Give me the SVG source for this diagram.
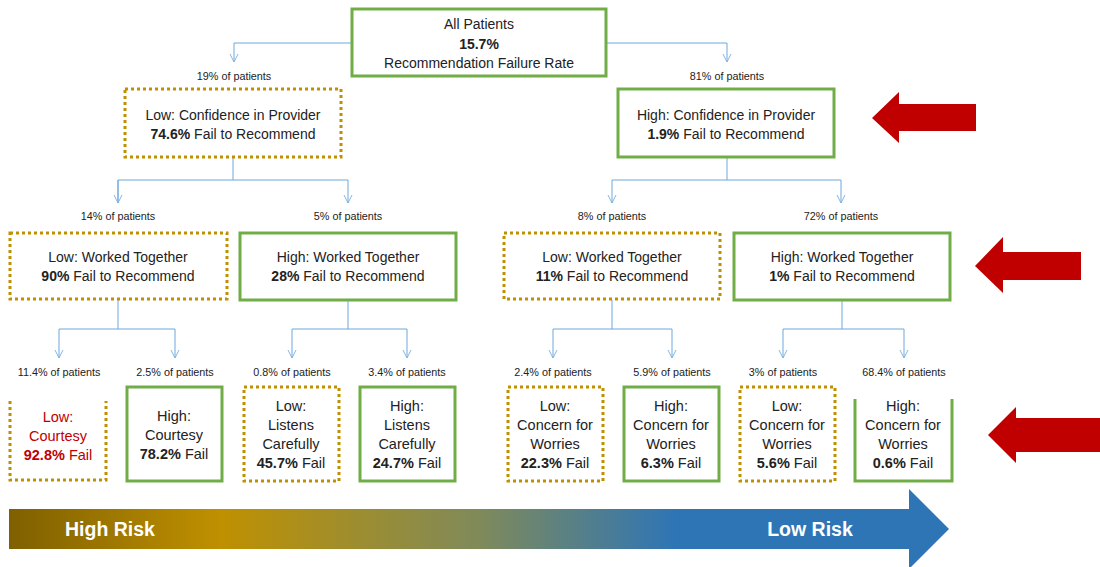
<svg xmlns="http://www.w3.org/2000/svg" width="1100" height="567" viewBox="0 0 1100 567">
<defs>
<style>
text{font-family:"Liberation Sans",Arial,sans-serif;fill:#222;text-anchor:middle}
.t{font-size:14px}
.t4{font-size:14.5px}
.p{font-size:10.8px}
.b{font-weight:bold}
.red{fill:#C00000}
.hi{fill:#fff;stroke:#70AD47;stroke-width:3}
.lo{fill:#fff;stroke:#BF9000;stroke-width:3;stroke-dasharray:3 3}
.side-hi{fill:none;stroke:#70AD47;stroke-width:3}
.side-lo{fill:none;stroke:#BF9000;stroke-width:3;stroke-dasharray:3 3}
.c{fill:none;stroke:#6FA8DC;stroke-width:1}
.ra{fill:#C00000}
.risk{font-size:19.5px;font-weight:bold;fill:#fff}
</style>
<marker id="v" viewBox="0 0 10 10" refX="10" refY="5" markerWidth="8" markerHeight="10" markerUnits="userSpaceOnUse" orient="auto">
<path d="M0,0 L10,5 L0,10" fill="none" stroke="#7FB2E0" stroke-width="1.2"/>
</marker>
<linearGradient id="g" gradientUnits="userSpaceOnUse" x1="9" y1="0" x2="949" y2="0">
<stop offset="0" stop-color="#7F6000"/>
<stop offset="0.225" stop-color="#BF9000"/>
<stop offset="0.5" stop-color="#7F8A5A"/>
<stop offset="0.71" stop-color="#2E75B6"/>
<stop offset="1" stop-color="#2E75B6"/>
</linearGradient>
</defs>

<g id="connectors">
<path class="c" d="M351,43 H234 V62" marker-end="url(#v)"/>
<path class="c" d="M606,43 H727 V62" marker-end="url(#v)"/>
<path class="c" d="M233,157 V180"/>
<path class="c" d="M118,203 V180 H348 V203" marker-end="url(#v)"/>
<path class="c" d="M118,180 V203" marker-end="url(#v)"/>
<path class="c" d="M727,157 V180"/>
<path class="c" d="M612,180 H841 V203" marker-end="url(#v)"/>
<path class="c" d="M612,180 V203" marker-end="url(#v)"/>
<path class="c" d="M118,300 V329"/>
<path class="c" d="M59,329 H175 V358" marker-end="url(#v)"/>
<path class="c" d="M59,329 V358" marker-end="url(#v)"/>
<path class="c" d="M348,300 V329"/>
<path class="c" d="M292,329 H407 V358" marker-end="url(#v)"/>
<path class="c" d="M292,329 V358" marker-end="url(#v)"/>
<path class="c" d="M612,300 V329"/>
<path class="c" d="M553,329 H672 V358" marker-end="url(#v)"/>
<path class="c" d="M553,329 V358" marker-end="url(#v)"/>
<path class="c" d="M842,300 V329"/>
<path class="c" d="M783,329 H904 V358" marker-end="url(#v)"/>
<path class="c" d="M783,329 V358" marker-end="url(#v)"/>
</g>

<g id="labels">
<text class="p" x="234" y="80">19% of patients</text>
<text class="p" x="727" y="80">81% of patients</text>
<text class="p" x="118" y="220">14% of patients</text>
<text class="p" x="348" y="220">5% of patients</text>
<text class="p" x="612" y="220">8% of patients</text>
<text class="p" x="841" y="220">72% of patients</text>
<text class="p" x="59" y="376">11.4% of patients</text>
<text class="p" x="175" y="376">2.5% of patients</text>
<text class="p" x="292" y="376">0.8% of patients</text>
<text class="p" x="407" y="376">3.4% of patients</text>
<text class="p" x="553" y="376">2.4% of patients</text>
<text class="p" x="672" y="376">5.9% of patients</text>
<text class="p" x="783" y="376">3% of patients</text>
<text class="p" x="904" y="376">68.4% of patients</text>
</g>

<g id="all-patients">
<rect class="hi" x="352" y="9" width="254" height="67"/>
<text class="t" x="479" y="29">All Patients</text>
<text class="t b" x="479" y="49">15.7%</text>
<text class="t" x="479" y="68">Recommendation Failure Rate</text>
</g>

<g id="low-confidence">
<rect class="lo" x="125" y="89" width="216" height="68"/>
<text class="t" x="233" y="120">Low: Confidence in Provider</text>
<text class="t" x="233" y="139"><tspan class="b">74.6%</tspan> Fail to Recommend</text>
</g>

<g id="high-confidence">
<rect class="hi" x="618" y="89" width="216" height="68"/>
<text class="t" x="726" y="120">High: Confidence in Provider</text>
<text class="t" x="726" y="139"><tspan class="b">1.9%</tspan> Fail to Recommend</text>
</g>

<g id="low-worked-1">
<rect class="lo" x="10" y="233" width="217" height="66"/>
<text class="t" x="118" y="262">Low: Worked Together</text>
<text class="t" x="118" y="281"><tspan class="b">90%</tspan> Fail to Recommend</text>
</g>

<g id="high-worked-1">
<rect class="hi" x="240" y="233" width="216" height="67"/>
<text class="t" x="348" y="262">High: Worked Together</text>
<text class="t" x="348" y="281"><tspan class="b">28%</tspan> Fail to Recommend</text>
</g>

<g id="low-worked-2">
<rect class="lo" x="504" y="233" width="216" height="66"/>
<text class="t" x="612" y="262">Low: Worked Together</text>
<text class="t" x="612" y="281"><tspan class="b">11%</tspan> Fail to Recommend</text>
</g>

<g id="high-worked-2">
<rect class="hi" x="734" y="233" width="216" height="67"/>
<text class="t" x="842" y="262">High: Worked Together</text>
<text class="t" x="842" y="281"><tspan class="b">1%</tspan> Fail to Recommend</text>
</g>

<g id="low-courtesy">
<path class="side-lo" d="M10,401 V480 H106 V401"/>
<text class="t4 red" x="58" y="422">Low:</text>
<text class="t4 red" x="58" y="441">Courtesy</text>
<text class="t4 red" x="58" y="460"><tspan class="b">92.8%</tspan> Fail</text>
</g>

<g id="high-courtesy">
<rect class="hi" x="127" y="387" width="95" height="94"/>
<text class="t4" x="174" y="421">High:</text>
<text class="t4" x="174" y="440">Courtesy</text>
<text class="t4" x="174" y="459"><tspan class="b">78.2%</tspan> Fail</text>
</g>

<g id="low-listens">
<rect class="lo" x="244" y="387" width="95" height="94"/>
<text class="t4" x="291" y="411">Low:</text>
<text class="t4" x="291" y="430">Listens</text>
<text class="t4" x="291" y="449">Carefully</text>
<text class="t4" x="291" y="468"><tspan class="b">45.7%</tspan> Fail</text>
</g>

<g id="high-listens">
<rect class="hi" x="360" y="387" width="95" height="94"/>
<text class="t4" x="407" y="411">High:</text>
<text class="t4" x="407" y="430">Listens</text>
<text class="t4" x="407" y="449">Carefully</text>
<text class="t4" x="407" y="468"><tspan class="b">24.7%</tspan> Fail</text>
</g>

<g id="low-concern-1">
<rect class="lo" x="508" y="387" width="95" height="94"/>
<text class="t4" x="555" y="411">Low:</text>
<text class="t4" x="555" y="430">Concern for</text>
<text class="t4" x="555" y="449">Worries</text>
<text class="t4" x="555" y="468"><tspan class="b">22.3%</tspan> Fail</text>
</g>

<g id="high-concern-1">
<rect class="hi" x="624" y="387" width="95" height="94"/>
<text class="t4" x="671" y="411">High:</text>
<text class="t4" x="671" y="430">Concern for</text>
<text class="t4" x="671" y="449">Worries</text>
<text class="t4" x="671" y="468"><tspan class="b">6.3%</tspan> Fail</text>
</g>

<g id="low-concern-2">
<rect class="lo" x="740" y="387" width="95" height="94"/>
<text class="t4" x="787" y="411">Low:</text>
<text class="t4" x="787" y="430">Concern for</text>
<text class="t4" x="787" y="449">Worries</text>
<text class="t4" x="787" y="468"><tspan class="b">5.6%</tspan> Fail</text>
</g>

<g id="high-concern-2">
<path class="side-hi" d="M855,399 V481 H952 V399"/>
<text class="t4" x="903" y="411">High:</text>
<text class="t4" x="903" y="430">Concern for</text>
<text class="t4" x="903" y="449">Worries</text>
<text class="t4" x="903" y="468"><tspan class="b">0.6%</tspan> Fail</text>
</g>

<g id="red-arrows">
<polygon class="ra" points="872,118 899,92 899,104 976,104 976,131 899,131 899,143"/>
<polygon class="ra" points="975,266 1003,237 1003,252 1081,252 1081,280 1003,280 1003,293"/>
<polygon class="ra" points="988,435 1016,407 1016,418 1100,418 1100,452 1016,452 1016,463"/>
</g>

<g id="risk-arrow">
<polygon fill="url(#g)" points="9,509 909,509 909,489 949,529 909,569 909,549 9,549"/>
<text class="risk" x="110" y="536">High Risk</text>
<text class="risk" x="810" y="536">Low Risk</text>
</g>
</svg>
